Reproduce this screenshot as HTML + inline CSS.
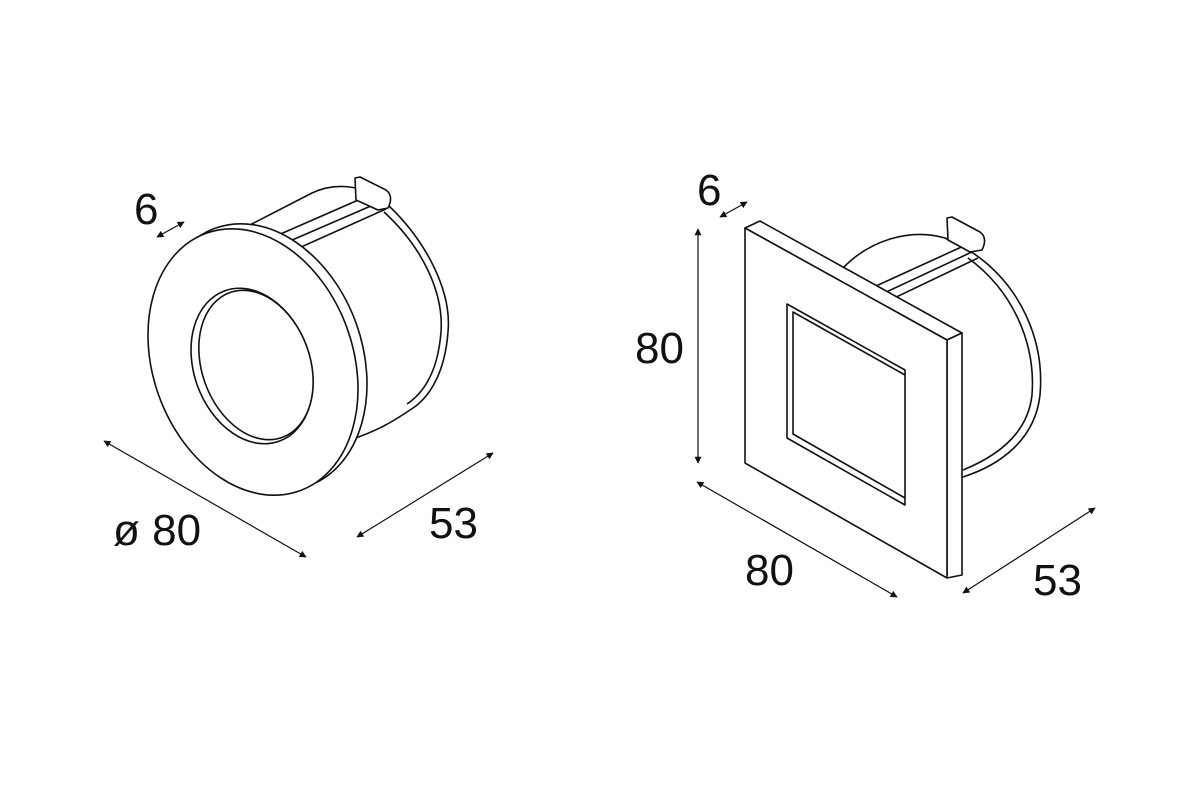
<!DOCTYPE html>
<html><head><meta charset="utf-8"><style>
html,body{margin:0;padding:0;background:#fff;}
svg{display:block;}
text{font-family:"Liberation Sans",Arial,sans-serif;fill:#111;}
</style></head><body>
<svg width="1200" height="800" viewBox="0 0 1200 800" xmlns="http://www.w3.org/2000/svg">
<defs>
<marker id="ah" viewBox="0 0 10 10" refX="9" refY="5" markerWidth="9" markerHeight="7" orient="auto-start-reverse" markerUnits="userSpaceOnUse">
<path d="M0,0 L10,5 L0,10 z" fill="#111"/>
</marker>
</defs>
<g fill="#fff" stroke="#111" stroke-width="1.6" stroke-linejoin="round">
<!-- LEFT: cylinder -->
<path d="M248,226 L312,193 C340,180 372,188 388,205 C425,240 452,290 448,332 C445,372 430,398 410,410 C395,420 380,430 350,440 L300,440 Z"/>
<path d="M384,212 C420,245 444,290 441,332 C438,370 425,392 407,404" fill="none"/>
<!-- rails -->
<path d="M276,236 L372,194 M283,244 L380,202 M290,252 L386,209" fill="none"/>
<!-- clip -->
<path d="M355,178 L356,200 L378,210 L388,208 Q394,196 386,190 L360,177 Z"/>
<!-- rim back -->
<ellipse cx="262" cy="357" rx="100" ry="137" transform="rotate(-20 262 357)"/>
<!-- rim front -->
<ellipse cx="253" cy="362" rx="100" ry="137" transform="rotate(-20 253 362)"/>
<!-- lens -->
<ellipse cx="252" cy="366" rx="58" ry="80" transform="rotate(-20 252 366)"/>
<ellipse cx="256" cy="365" rx="54" ry="77" transform="rotate(-20 256 365)"/>

<!-- RIGHT: cylinder -->
<path d="M843,268 C870,240 910,228 945,238 L973,253 C1020,285 1045,340 1040,395 C1035,440 1000,465 963,477 L900,480 Z"/>
<path d="M968,258 C1012,290 1036,342 1032,395 C1028,432 1000,455 963,470" fill="none"/>
<path d="M876,286 L968,244 M882,294 L974,251 M888,301 L978,258" fill="none"/>
<path d="M947,218 L948,240 L970,252 L982,250 Q988,238 980,232 L952,217 Z"/>
<!-- face -->
<polygon points="745,228 760,221 962,333 947,340"/>
<polygon points="947,340 962,333 962,575 947,578"/>
<polygon points="745,228 947,340 947,578 745,463"/>
<polygon points="787,304 905,370 905,505 787,438"/>
<polyline points="905,375 793,312 793,434 905,498" fill="none"/>
</g>

<!-- dimension lines -->
<g stroke="#111" stroke-width="1.2" fill="none">
<line x1="157" y1="237" x2="184" y2="222" marker-start="url(#ah)" marker-end="url(#ah)"/>
<line x1="104" y1="441" x2="306" y2="557" marker-start="url(#ah)" marker-end="url(#ah)"/>
<line x1="357" y1="537" x2="493" y2="453" marker-start="url(#ah)" marker-end="url(#ah)"/>
<line x1="720" y1="217" x2="747" y2="202" marker-start="url(#ah)" marker-end="url(#ah)"/>
<line x1="698" y1="229" x2="698" y2="463" marker-start="url(#ah)" marker-end="url(#ah)"/>
<line x1="697" y1="482" x2="897" y2="597" marker-start="url(#ah)" marker-end="url(#ah)"/>
<line x1="963" y1="593" x2="1095" y2="508" marker-start="url(#ah)" marker-end="url(#ah)"/>
</g>

<g font-size="44">
<text x="134" y="224">6</text>
<text x="113" y="545">ø 80</text>
<text x="429" y="538">53</text>
<text x="697" y="205">6</text>
<text x="635" y="363">80</text>
<text x="745" y="585">80</text>
<text x="1033" y="595">53</text>
</g>
</svg>
</body></html>
